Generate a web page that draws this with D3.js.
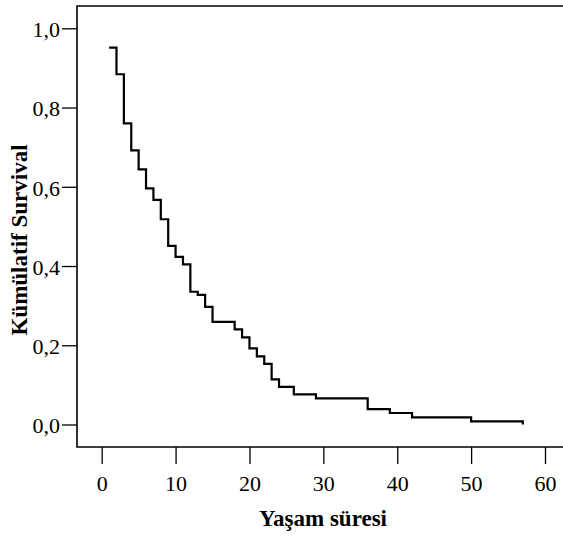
<!DOCTYPE html>
<html>
<head>
<meta charset="utf-8">
<script src="https://cdn.jsdelivr.net/npm/d3@7"></script>
<style>
  body { margin: 0; background: #fff; }
  svg text { font-family: "Liberation Serif", "Times New Roman", serif; fill: #000; }
</style>
</head>
<body>
<div id="chart"></div>
<script>
// survival times (months) and cumulative survival after each event
var times = [1, 2, 3, 4, 5, 6, 7, 8, 9, 10, 11, 12, 13, 14, 15, 18, 19, 20, 21, 22, 23, 24, 26, 29, 36, 39, 42, 50, 57];
var survival = [0.951, 0.884, 0.760, 0.692, 0.644, 0.596, 0.567, 0.518, 0.451, 0.423, 0.404, 0.335, 0.327, 0.297, 0.259,
    0.240, 0.220, 0.192, 0.172, 0.153, 0.114, 0.095, 0.076, 0.066, 0.039, 0.029, 0.018, 0.008, 0.000];
var xTicks = [0, 10, 20, 30, 40, 50, 60];
var yTicks = [0, 0.2, 0.4, 0.6, 0.8, 1.0];

var width = 563, height = 539;
var frame = {left: 77, top: 6, bottom: 447, right: 566};

var svg = d3.select("#chart").append("svg")
    .attr("width", width)
    .attr("height", height);

var x = d3.scaleLinear().domain([0, 60]).range([101.7, 545]);
var y = d3.scaleLinear().domain([0, 1]).range([424.5, 28.3]);

var fmt = function(d) { return d3.format(".1f")(d).replace(".", ","); };

// frame (open on the right side)
svg.append("path")
    .attr("d", "M" + frame.right + "," + frame.top + "H" + frame.left + "V" + frame.bottom + "H" + frame.right)
    .attr("fill", "none")
    .attr("stroke", "#000")
    .attr("stroke-width", 1.6);

// y axis
var yAxis = svg.append("g")
    .attr("transform", "translate(" + frame.left + ",0)")
    .call(d3.axisLeft(y).tickValues(yTicks).tickFormat(fmt).tickSize(15).tickSizeOuter(0).tickPadding(2));
yAxis.select(".domain").remove();
yAxis.selectAll(".tick line").attr("stroke", "#000").attr("stroke-width", 1.3);
yAxis.selectAll("text")
    .attr("font-size", 22)
    .attr("font-family", "Liberation Serif")
    .attr("dy", "0.38em");

// x axis
var xAxis = svg.append("g")
    .attr("transform", "translate(0," + frame.bottom + ")")
    .call(d3.axisBottom(x).tickValues(xTicks).tickFormat(d3.format("d")).tickSize(17).tickSizeOuter(0).tickPadding(11));
xAxis.select(".domain").remove();
xAxis.selectAll(".tick line").attr("stroke", "#000").attr("stroke-width", 1.3);
xAxis.selectAll("text")
    .attr("font-size", 22)
    .attr("font-family", "Liberation Serif");

// survival curve
var pts = times.map(function(t, i) { return [t, survival[i]]; });
var line = d3.line()
    .x(function(d) { return x(d[0]); })
    .y(function(d) { return y(d[1]); })
    .curve(d3.curveStepAfter);

svg.append("path")
    .datum(pts)
    .attr("d", line)
    .attr("fill", "none")
    .attr("stroke", "#000")
    .attr("stroke-width", 2.2);

// axis titles
svg.append("text")
    .attr("x", 323)
    .attr("y", 526)
    .attr("text-anchor", "middle")
    .attr("font-size", 23)
    .attr("font-weight", "bold")
    .text("Yaşam süresi");

svg.append("text")
    .attr("transform", "translate(27,240) rotate(-90)")
    .attr("text-anchor", "middle")
    .attr("font-size", 23)
    .attr("font-weight", "bold")
    .text("Kümülatif Survival");
</script>
</body>
</html>
